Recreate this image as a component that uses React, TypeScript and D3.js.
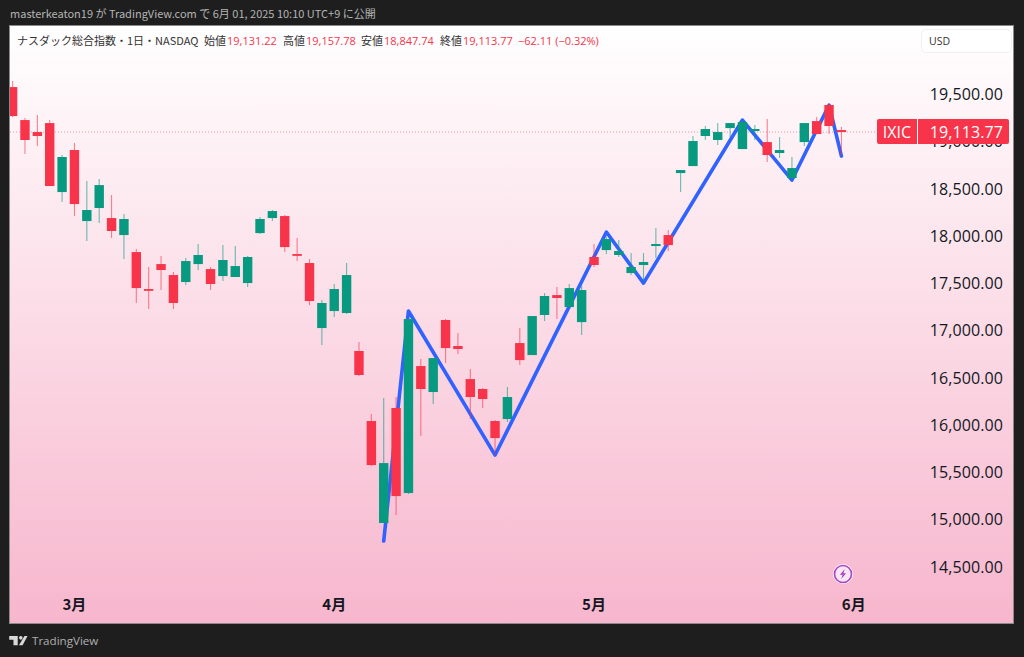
import React from "react";
import * as d3 from "d3";

const opens = [19568,19219,19092,19187,18457,18902,18150,18288,18182,18002,17822,17431,17695,17579,17505,17695,17642,17568,17558,17494,18023,18182,18203,17801,17706,17018,17198,17177,16775,16034,14955,16172,15272,16616,16341,17103,16828,16478,16373,16034,16055,16859,16732,17156,17367,17240,17081,17770,17843,17791,17600,17685,17886,18002,18658,18732,19050,19008,19134,18912,19103,18986,18870,18605,18986,19208,19378,19113];
const closes = [19261,19008,19050,18521,18828,18330,18267,18531,18045,18172,17441,17420,17632,17283,17727,17791,17484,17738,17674,17770,18172,18256,17875,17791,17304,17283,17431,17579,16521,15568,15589,15240,17113,16373,16700,16806,16796,16288,16267,15854,16288,16679,17145,17357,17336,17441,17420,17685,17960,17833,17664,17717,17907,17896,18690,18997,19124,19092,19187,19198,19124,18849,18902,18711,19187,19071,19156,19092];
const highs = [19632,19240,19272,19219,18849,18976,18574,18595,18426,18224,17854,17664,17780,17611,17759,17907,17664,17896,17886,17780,18193,18267,18214,17970,17748,17314,17484,17706,16870,16108,16277,16288,17113,16690,16700,17113,16965,16584,16383,16045,16394,17018,17145,17388,17452,17484,17463,17907,17981,17949,17812,17812,18076,18055,18690,19050,19156,19187,19187,19219,19166,19230,19039,18828,19187,19251,19388,19145];
const lows = [19251,18860,18944,18521,18352,18203,17939,18129,17970,17748,17282,17219,17420,17219,17473,17632,17420,17515,17558,17452,18013,18150,17822,17727,17261,16838,17134,17166,16510,15558,14955,15039,15261,15875,16213,16648,16743,16055,16172,15674,16023,16627,16732,17092,17113,17240,16944,17664,17801,17770,17579,17505,17759,17833,18457,18732,19008,18955,19039,18912,19008,18775,18817,18595,18944,19071,19071,18849];

const waveIndex = [30,32,39,48,51,59,63,66,67];
const wavePrice = [14764,17198,15674,18034,17494,19219,18584,19378,18838];

const priceTicks = [19500,19000,18500,18000,17500,17000,16500,16000,15500,15000,14500];
const monthLabels = ["3月","4月","5月","6月"];
const monthIndex = [5,26,47,68];

const titleText = "ナスダック総合指数・1日・NASDAQ";
const ohlcNames = ["始値","高値","安値","終値"];
const ohlcValues = ["19,131.22","19,157.78","18,847.74","19,113.77"];
const changeText = "−62.11 (−0.32%)";
const lastPriceText = "19,113.77";
const publishText = "masterkeaton19 が TradingView.com で 6月 01, 2025 10:10 UTC+9 に公開";

const RED = "#f7344a";
const GREEN = "#089981";
const BLUE = "#2f62ff";
const JP = "'Noto Sans CJK JP','Noto Sans',sans-serif";
const NUM = "'Open Sans','Noto Sans',sans-serif";

const W = 1024, H = 657;
const plot = { l: 10, t: 26, r: 1013, b: 623 };

const x = d3.scaleLinear().domain([0, 68]).range([12.6, 853.8]);
const y = d3.scaleLinear().domain([14500, 19500]).range([566, 93.5]);

const ohlcX = [204, 283, 361, 440];

export default function App() {
  const line = d3.line<number>().x((d) => x(waveIndex[d])).y((d) => y(wavePrice[d]));
  const wavePath = line(d3.range(waveIndex.length)) || "";
  const lastY = y(closes[closes.length - 1]);
  return (
    <svg width={W} height={H} viewBox={`0 0 ${W} ${H}`} style={{ position: "fixed", left: 0, top: 0, display: "block" }}>
      <defs>
        <linearGradient id="bg" x1="0" y1="0" x2="0" y2="1">
          <stop offset="0" stopColor="#ffffff" />
          <stop offset="1" stopColor="#f7b6cd" />
        </linearGradient>
        <clipPath id="plotClip">
          <rect x={plot.l} y={plot.t} width={plot.r - plot.l} height={plot.b - plot.t} />
        </clipPath>
      </defs>
      <rect width={W} height={H} fill="#1e1e1e" />
      <text x={10} y={18} fontFamily={JP} fontSize={11} fill="#b4b4b4">{publishText}</text>
      <rect x={plot.l - 0.5} y={plot.t - 0.5} width={plot.r - plot.l + 1} height={plot.b - plot.t + 1} fill="url(#bg)" stroke="#8a8a8a" strokeWidth={1} />

      <g clipPath="url(#plotClip)">
        <line x1={plot.l} x2={877} y1={lastY} y2={lastY} stroke={RED} strokeOpacity={0.5} strokeWidth={1} strokeDasharray="1 2" />
        <path d={wavePath} fill="none" stroke={BLUE} strokeWidth={3.6} strokeLinejoin="round" strokeLinecap="round" />
        {opens.map((o, i) => {
          const c = closes[i];
          const col = c >= o && !(i === 67) ? GREEN : RED;
          const top = y(Math.max(o, c));
          const bot = y(Math.min(o, c));
          const cx = x(i);
          return (
            <g key={i}>
              <line x1={cx} x2={cx} y1={y(highs[i])} y2={y(lows[i])} stroke={col} strokeOpacity={0.6} strokeWidth={1.1} />
              <rect x={cx - 4.7} y={top} width={9.4} height={Math.max(bot - top, 1.8)} fill={col} />
            </g>
          );
        })}
      </g>

      {priceTicks.map((t) => (
        <text key={t} x={1003} y={y(t) + 0.5} textAnchor="end" dominantBaseline="central" fontFamily={NUM} fontSize={16} letterSpacing={0.1} fill="#131722">
          {d3.format(",.2f")(t)}
        </text>
      ))}

      <g>
        <rect x={877} y={119} width={132} height={25} rx={2} fill={RED} />
        <line x1={917.5} x2={917.5} y1={119} y2={144} stroke="#ffffff" strokeWidth={1} />
        <text x={897} y={132} textAnchor="middle" dominantBaseline="central" fontFamily={NUM} fontSize={16} fill="#fff">IXIC</text>
        <text x={1003} y={132} textAnchor="end" dominantBaseline="central" fontFamily={NUM} fontSize={16} letterSpacing={0.1} fill="#fff">{lastPriceText}</text>
      </g>

      <rect x={921.5} y={29.5} width={90} height={23} rx={4} fill="#fff" stroke="#f0f0f3" />
      <text x={929} y={41} dominantBaseline="central" fontFamily={NUM} fontSize={10.5} fill="#333">USD</text>

      <text y={40} dominantBaseline="central" fontFamily={JP} fontSize={11} fill="#333">
        <tspan x={17}>{titleText}</tspan>
      </text>
      {ohlcNames.map((n, i) => (
        <text key={n} y={40} dominantBaseline="central" fontFamily={JP} fontSize={11}>
          <tspan x={ohlcX[i]} fill="#333">{n}</tspan>
          <tspan x={ohlcX[i] + 23} fill={RED} fontFamily={NUM}>{ohlcValues[i]}</tspan>
        </text>
      ))}
      <text x={518} y={40} dominantBaseline="central" fontFamily={NUM} fontSize={11} fill={RED}>{changeText}</text>

      {monthLabels.map((m, i) => (
        <text key={m} x={x(monthIndex[i])} y={603} textAnchor="middle" dominantBaseline="central" fontFamily={JP} fontWeight={700} fontSize={15} fill="#131722">{m}</text>
      ))}

      <g transform="translate(843,574)">
        <circle r={10} fill="#fff" />
        <circle r={8.5} fill="#fbe6f4" stroke="#a944c4" strokeWidth={1.6} />
        <path d="M1.8-5 -3.2 0.8H-0.4L-1.8 5 3.2-0.8H0.4Z" fill="#a944c4" />
      </g>

      <g transform="translate(9.2,636) scale(0.61)" fill="#d8d8d8">
        <path d="M14 0H0V6H7V15H14Z" />
        <circle cx="19" cy="3" r="3" />
        <path d="M25 0H30L22 15H16Z" />
      </g>
      <text x={32} y={640.5} dominantBaseline="central" fontFamily="'Open Sans',sans-serif" fontSize={11.6} fill="#b0b0b0">TradingView</text>
    </svg>
  );
}
